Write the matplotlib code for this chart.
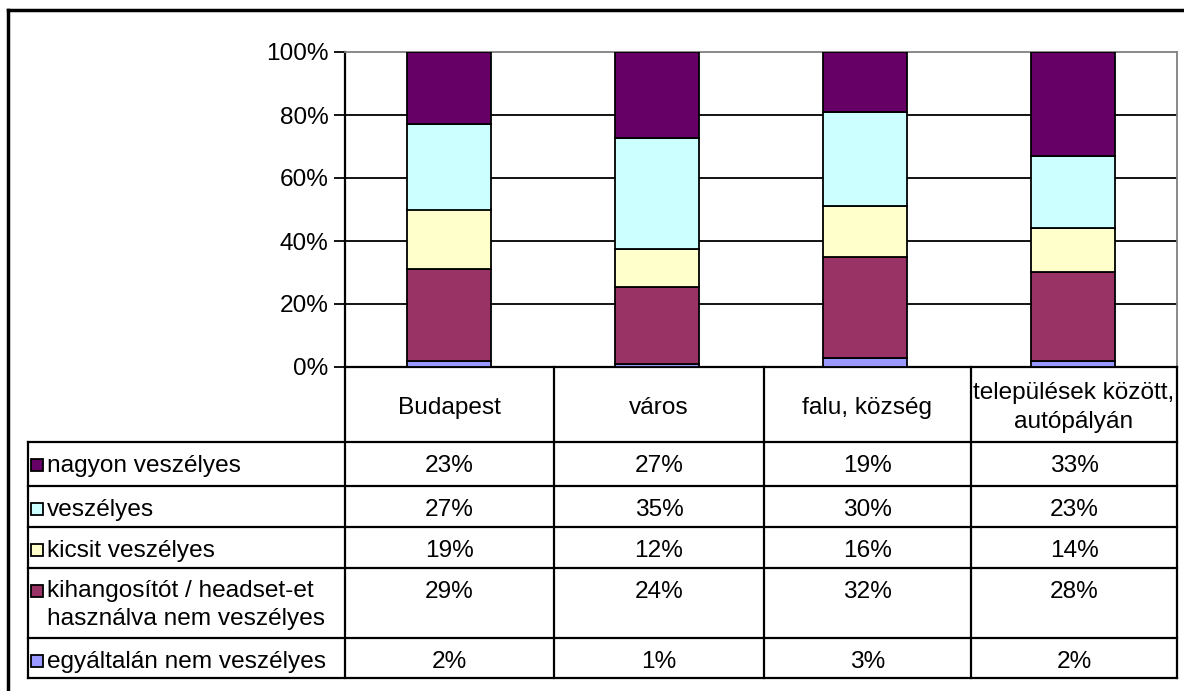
import matplotlib.pyplot as plt
import numpy as np

plt.rcParams['font.family'] = ['Liberation Sans', 'DejaVu Sans']

categories = ['Budapest', 'város', 'falu, község', 'települések között,\nautópályán']
series_names = ['egyáltalán nem veszélyes',
                'kihangosítót / headset-et\nhasználva nem veszélyes',
                'kicsit veszélyes',
                'veszélyes',
                'nagyon veszélyes']
egyaltalan = [2, 1, 3, 2]
kihangosito = [29, 24, 32, 28]
kicsit = [19, 12, 16, 14]
veszelyes = [27, 35, 30, 23]
nagyon = [23, 27, 19, 33]
colors = ['#9999FF', '#993366', '#FFFFCC', '#CCFFFF', '#660066']

series = [egyaltalan, kihangosito, kicsit, veszelyes, nagyon]
vals = np.array(series, dtype=float)
shares = vals / vals.sum(axis=0) * 100  # 100% stacked

W, H = 1184, 691
FS = 17.6
fig = plt.figure(figsize=(W / 100, H / 100), dpi=100)

# pixel layout of the plot area / table
px_left, px_right = 345, 1177
px_top, px_bottom = 52, 367
col_edges = [345, 554, 764, 971, 1177]
row_edges = [442, 486, 527, 568, 638, 678]
tab_left = 28

ax = fig.add_axes([px_left / W, 1 - px_bottom / H,
                   (px_right - px_left) / W, (px_bottom - px_top) / H])
x = np.arange(len(categories))
bottom = np.zeros(len(categories))
for s, c in zip(shares, colors):
    ax.bar(x, s, bottom=bottom, width=0.4, color=c, edgecolor='black',
           linewidth=1.3, zorder=3)
    bottom += s
ax.set_xlim(-0.5, len(categories) - 0.5)
ax.set_ylim(0, 100)
ax.set_yticks(range(0, 101, 20))
ax.set_yticklabels([f'{v}%' for v in range(0, 101, 20)], fontsize=FS)
ax.set_xticks([])
for v in range(20, 100, 20):
    ax.axhline(v, color='black', linewidth=1.3, zorder=1)
ax.tick_params(axis='y', length=8, width=1.3, pad=4)
for side in ['top', 'right']:
    ax.spines[side].set_color('#808080')
    ax.spines[side].set_linewidth(1.3)
ax.spines['left'].set_linewidth(1.6)
ax.spines['bottom'].set_linewidth(1.6)

# overlay in pixel coordinates for the table and frame
ov = fig.add_axes([0, 0, 1, 1])
ov.set_xlim(0, W)
ov.set_ylim(H, 0)
ov.axis('off')
ov.patch.set_alpha(0)

lw = 1.6
# outer frame (left and top)
ov.plot([8, 8], [10, H], color='black', lw=2.5)
ov.plot([8, W], [10, 10], color='black', lw=2.5)

# header row (categories only)
for xe in col_edges:
    ov.plot([xe, xe], [px_bottom, row_edges[-1]], color='black', lw=lw)
ov.plot([tab_left, tab_left], [row_edges[0], row_edges[-1]], color='black', lw=lw)
for ye in row_edges:
    ov.plot([tab_left, col_edges[-1]], [ye, ye], color='black', lw=lw)

for i, cat in enumerate(categories):
    cx = (col_edges[i] + col_edges[i + 1]) / 2
    ov.text(cx, (px_bottom + row_edges[0]) / 2 + 3, cat, ha='center', va='center',
            fontsize=FS, linespacing=1.4)

# table rows, top to bottom: reverse of stacking order
for r, k in enumerate(range(len(series) - 1, -1, -1)):
    y0 = row_edges[r]
    ytxt = y0 + 24
    ov.add_patch(plt.Rectangle((31, ytxt - 7), 12, 12, facecolor=colors[k],
                               edgecolor='black', lw=1.3))
    if '\n' in series_names[k]:
        ov.text(47, ytxt - 12, series_names[k], ha='left', va='top',
                fontsize=FS, linespacing=1.33)
    else:
        ov.text(47, ytxt, series_names[k], ha='left', va='center', fontsize=FS)
    for i in range(len(categories)):
        cx = (col_edges[i] + col_edges[i + 1]) / 2
        ov.text(cx, ytxt, f'{series[k][i]}%', ha='center', va='center',
                fontsize=FS)

fig.savefig('out.png', dpi=100)
